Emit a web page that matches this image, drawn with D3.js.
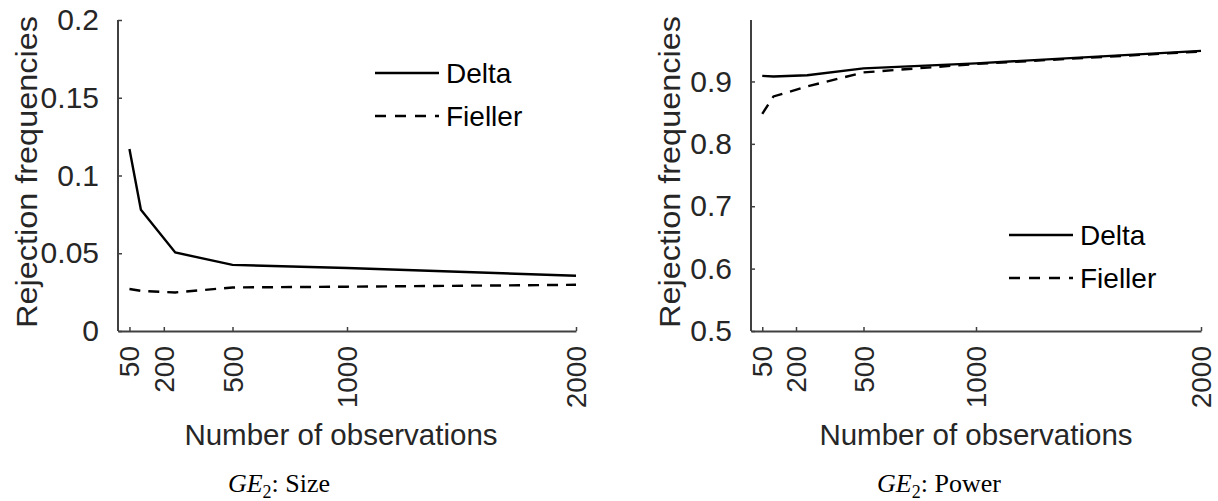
<!DOCTYPE html>
<html>
<head>
<meta charset="utf-8">
<script src="https://cdnjs.cloudflare.com/ajax/libs/d3/7.8.5/d3.min.js"></script>
<style>
  body { margin: 0; background: #fff; }
  svg { display: block; }
</style>
</head>
<body>
<svg id="chart"></svg>
<script>
// sample sizes and rejection frequencies
const obs = [50, 100, 250, 500, 1000, 2000];
const xTicks = [50, 200, 500, 1000, 2000];

const sizeDelta   = [0.117, 0.078, 0.0505, 0.0425, 0.0405, 0.0355];
const sizeFieller = [0.027, 0.0258, 0.0248, 0.028, 0.0285, 0.0297];
const sizeYTicks  = [0, 0.05, 0.1, 0.15, 0.2];

const powDelta   = [0.909, 0.908, 0.910, 0.921, 0.929, 0.949];
const powFieller = [0.848, 0.876, 0.892, 0.9145, 0.928, 0.948];
const powYTicks  = [0.5, 0.6, 0.7, 0.8, 0.9];

const width = 1218, height = 501;
const ink = '#262626';
const sans = '"Liberation Sans", Arial, sans-serif';
const serif = '"Liberation Serif", "Times New Roman", serif';

const svg = d3.select('#chart').attr('width', width).attr('height', height);

const drawPanel = (p) => {
    const xScale = d3.scaleLinear().domain([0, 2000]).range([p.left, p.right]);
    const yScale = d3.scaleLinear().domain(p.yDomain).range([331, 20]);

    // axes, MATLAB style: ticks inward, no box
    const xAxis = d3.axisBottom(xScale).tickValues(xTicks).tickSize(-4).tickSizeOuter(0)
        .tickFormat(d3.format('d'));
    const gx = svg.append('g').attr('transform', 'translate(0,331)').call(xAxis);

    const yAxis = d3.axisLeft(yScale).tickValues(p.yTicks).tickSize(-4).tickSizeOuter(0).tickPadding(19)
        .tickFormat(d3.format('~g'));
    const gy = svg.append('g').attr('transform', 'translate(' + p.left + ',0)').call(yAxis);

    [gx, gy].forEach((g) => {
        g.select('.domain').attr('stroke', '#404040').attr('stroke-width', 2);
        g.selectAll('.tick line').attr('stroke', '#404040').attr('stroke-width', 1.5);
        g.selectAll('text').attr('fill', ink).style('font-family', sans).style('font-size', '30px');
    });
    gx.selectAll('text')
        .attr('transform', 'rotate(-90)')
        .attr('x', -15)
        .attr('y', 0)
        .attr('dy', '0.34em')
        .style('text-anchor', 'end')
        .style('font-size', '28px');
    // extend y domain line to the top of the plot area
    gy.select('.domain').attr('d', 'M0,' + yScale.range()[1] + 'V331');

    // series
    const line = d3.line().x((d, i) => xScale(obs[i])).y((d) => yScale(d));
    svg.append('path').datum(p.delta).attr('d', line)
        .attr('fill', 'none').attr('stroke', '#000').attr('stroke-width', 2.4);
    svg.append('path').datum(p.fieller).attr('d', line)
        .attr('fill', 'none').attr('stroke', '#000').attr('stroke-width', 2.4)
        .attr('stroke-dasharray', '11,8');

    // legend
    const leg = [{name: 'Delta', dash: null, y: p.legY}, {name: 'Fieller', dash: '11,9', y: p.legY + 43}];
    leg.forEach((l) => {
        svg.append('line')
            .attr('x1', p.legX).attr('x2', p.legX + 64).attr('y1', l.y).attr('y2', l.y)
            .attr('stroke', '#000').attr('stroke-width', 2.4)
            .attr('stroke-dasharray', l.dash);
        svg.append('text').attr('x', p.legX + 71).attr('y', l.y + 10)
            .attr('fill', '#000').style('font-family', sans).style('font-size', '28px')
            .text(l.name);
    });

    // axis titles
    svg.append('text')
        .attr('transform', 'translate(' + p.yLabelX + ',172) rotate(-90)')
        .attr('text-anchor', 'middle').attr('dy', '0.35em')
        .attr('textLength', 312).attr('lengthAdjust', 'spacingAndGlyphs')
        .attr('fill', ink).style('font-family', sans).style('font-size', '30px')
        .text('Rejection frequencies');
    svg.append('text')
        .attr('x', p.xLabelX).attr('y', 445)
        .attr('text-anchor', 'middle')
        .attr('fill', ink).style('font-family', sans).style('font-size', '29.5px')
        .text('Number of observations');

    // caption
    const cap = svg.append('text')
        .attr('x', p.capX).attr('y', 492)
        .attr('text-anchor', 'middle')
        .attr('fill', '#000').style('font-family', serif).style('font-size', '26px');
    cap.append('tspan').style('font-style', 'italic').text('GE');
    cap.append('tspan').attr('dy', 6).style('font-size', '18px').text('2');
    cap.append('tspan').attr('dy', -6).text(': ' + p.caption);
};

drawPanel({
    left: 118, right: 576, yDomain: [0, 0.2], yTicks: sizeYTicks,
    delta: sizeDelta, fieller: sizeFieller,
    legX: 375, legY: 73, yLabelX: 26, xLabelX: 341, capX: 279, caption: 'Size'
});

drawPanel({
    left: 751, right: 1201, yDomain: [0.5, 0.9985], yTicks: powYTicks,
    delta: powDelta, fieller: powFieller,
    legX: 1009, legY: 235, yLabelX: 669, xLabelX: 976, capX: 939, caption: 'Power'
});
</script>
</body>
</html>
